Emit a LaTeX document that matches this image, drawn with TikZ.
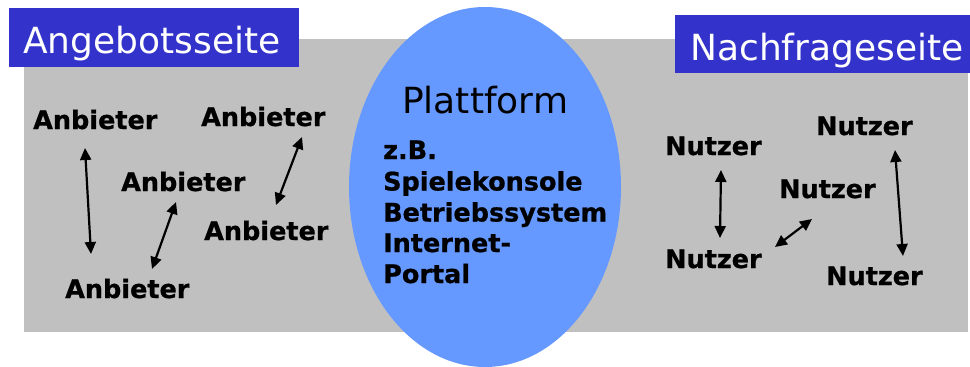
\documentclass[tikz,border=0pt]{standalone}
\usepackage{fontspec}
\setmainfont{DejaVu Sans}[BoldFeatures={FakeBold=0.8}]
\usetikzlibrary{arrows.meta,calc,shapes.geometric}
\definecolor{graybg}{HTML}{C0C0C0}
\definecolor{titleblue}{HTML}{3333CC}
\definecolor{platblue}{HTML}{6699FF}
\begin{document}
\begin{tikzpicture}[x=1pt,y=-1pt,
  lbl/.style={anchor=base west, inner sep=0pt, font=\fontsize{25.5}{31}\selectfont\bfseries},
  ttl/.style={anchor=base west, inner sep=0pt, text=white, font=\fontsize{36}{43}\selectfont},
  link/.style={{Triangle[length=12pt,width=11pt]}-{Triangle[length=12pt,width=11pt]}, line width=2.2pt}]
\useasboundingbox (0,0) rectangle (970,367);
% background areas
\fill[graybg] (24,39) rectangle (968,332);
\node[ellipse, fill=platblue, minimum width=272pt, minimum height=360pt, inner sep=0pt] (plat) at (485,187) {};
\fill[titleblue] (9,8) rectangle (299,67);
\fill[titleblue] (675,15) rectangle (970,73);
% titles
\node[ttl] (ang) at (23,53) {Angebotsseite};
\node[ttl] (nach) at (690,60) {Nachfrageseite};
\node[ttl, text=black] (plt) at (402,113) {Plattform};
% platform examples
\node[lbl] (ex1) at (383,159) {z.B.};
\node[lbl] (ex2) at (383,190.5) {Spielekonsole};
\node[lbl] (ex3) at (383,221.5) {Betriebssystem};
\node[lbl] (ex4) at (383,252) {Internet-};
\node[lbl] (ex5) at (383,283) {Portal};
% suppliers
\node[lbl] (a1) at (33,129) {Anbieter};
\node[lbl] (a2) at (201,126) {Anbieter};
\node[lbl] (a3) at (121,191) {Anbieter};
\node[lbl] (a4) at (204,240) {Anbieter};
\node[lbl] (a5) at (65,298) {Anbieter};
% users
\node[lbl] (n1) at (665,155) {Nutzer};
\node[lbl] (n2) at (816,135) {Nutzer};
\node[lbl] (n3) at (779,198) {Nutzer};
\node[lbl] (n4) at (665,268) {Nutzer};
\node[lbl] (n5) at (826,285) {Nutzer};
% connectors
\draw[link] ($(a1.base west)+(52,19)$) -- ($(a5.base west)+(26,-44)$);
\draw[link] ($(a3.base west)+(55,11)$) -- ($(a5.base west)+(87,-29)$);
\draw[link] ($(a2.base west)+(101,11)$) -- ($(a4.base west)+(72,-35)$);
\draw[link] ($(n1.base west)+(56,15)$) -- ($(n4.base west)+(55,-30)$);
\draw[link] ($(n3.base west)+(33,21)$) -- ($(n4.base west)+(110,-21)$);
\draw[link] ($(n2.base west)+(79,15)$) -- ($(n5.base west)+(77,-29)$);
\end{tikzpicture}
\end{document}
